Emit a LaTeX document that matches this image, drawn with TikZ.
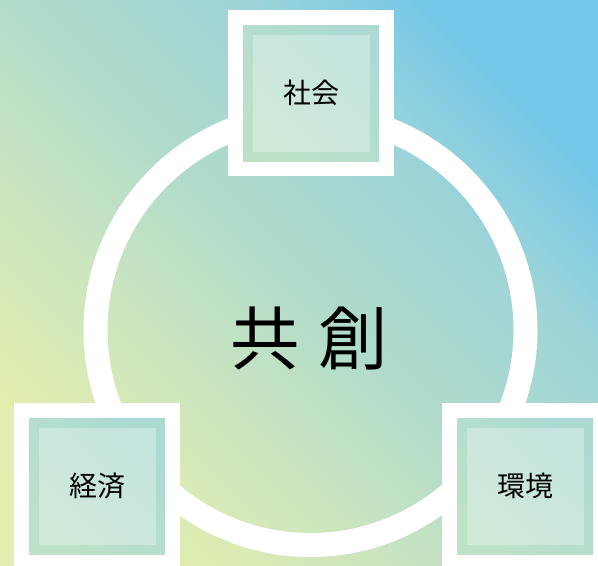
\documentclass[tikz,border=0pt]{standalone}
\usepackage{fontspec}
\newfontfamily\jp{Noto Sans CJK JP}
\definecolor{bgY}{HTML}{E2EDAE}
\definecolor{bgG}{HTML}{CDE6BE}
\definecolor{bgM}{HTML}{B0DBCB}
\definecolor{bgT}{HTML}{A0D5D7}
\definecolor{bgB}{HTML}{74C7E9}
\definecolor{boxA}{HTML}{BDE1C7}
\definecolor{boxB}{HTML}{ACDAD3}
\pgfdeclareverticalshading{bgsh}{100bp}{color(0bp)=(bgY); color(25bp)=(bgY); color(37bp)=(bgG); color(50bp)=(bgM); color(63bp)=(bgT); color(75bp)=(bgB); color(100bp)=(bgB)}
\begin{document}
\begin{tikzpicture}[x=0.75pt,y=-0.75pt,
  frame/.style={fill=white, minimum size=124.5pt, inner sep=0pt, outer sep=0pt},
  panel/.style={top color=boxB, bottom color=boxA, shading angle=-45, minimum size=102pt, inner sep=0pt},
  pane/.style={fill=white, fill opacity=0.3, minimum size=87.75pt, inner sep=0pt},
  lbl/.style={font=\jp\fontsize{21pt}{21pt}\selectfont, text=black, inner sep=0pt},
  big/.style={font=\jp\fontsize{52pt}{52pt}\selectfont, text=black, inner sep=0pt}]
\useasboundingbox (0,0) rectangle (598,565);
\clip (0,0) rectangle (598,565);
\shade[shading=bgsh, shading angle=-45] (0,0) rectangle (598,565);
\node (ring) [circle, draw=white, line width=18pt, minimum size=322.5pt, inner sep=0pt] at (310.5,330) {};
% society
\node (sf) [frame] at (311,93) {};
\node (sp) [panel] at (sf.center) {};
\node (sq) [pane] at (sf.center) {};
\node (society) [lbl] at (sf.center) {社会};
% economy
\node (ef) [frame] at (97,486) {};
\node (ep) [panel] at (ef.center) {};
\node (eq) [pane] at (ef.center) {};
\node (economy) [lbl] at (ef.center) {経済};
% environment
\node (vf) [frame] at (525,486) {};
\node (vp) [panel] at (vf.center) {};
\node (vq) [pane] at (vf.center) {};
\node (environment) [lbl] at (vf.center) {環境};
% center
\node (kyo) [big] at (265,338) {共};
\node (so) [big] at (353,338) {創};
\end{tikzpicture}
\end{document}
